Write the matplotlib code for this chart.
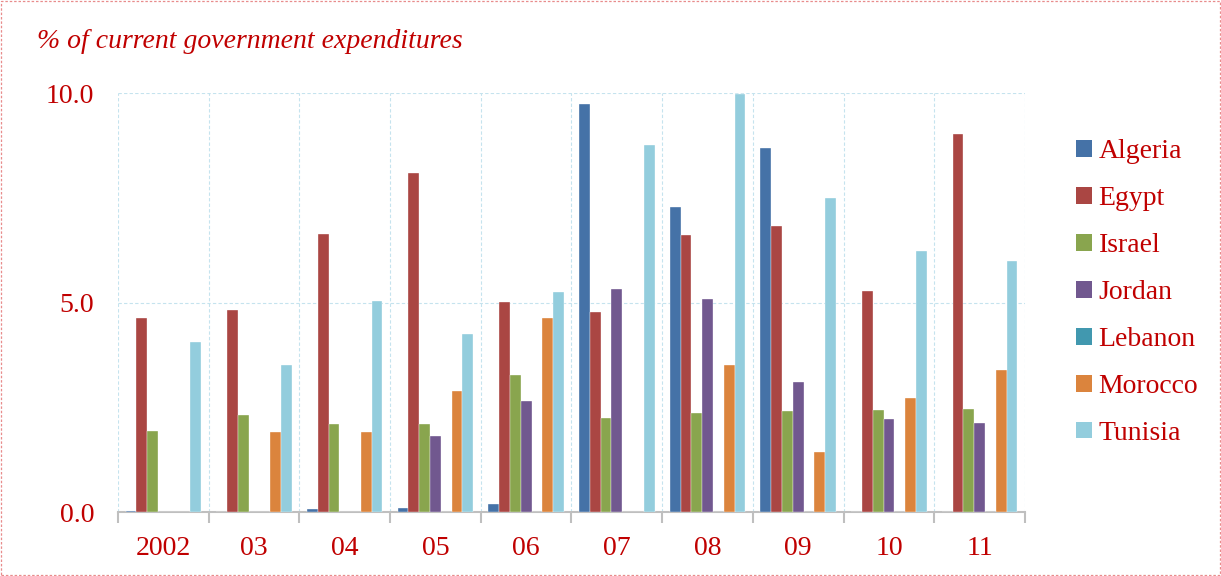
import numpy as np
import matplotlib
matplotlib.use("Agg")
import matplotlib.pyplot as plt
from matplotlib.patches import Rectangle, Patch

# data
years = ["2002", "03", "04", "05", "06", "07", "08", "09", "10", "11"]
countries = ["Algeria", "Egypt", "Israel", "Jordan", "Lebanon", "Morocco", "Tunisia"]
algeria = [0.03, 0.01, 0.06, 0.10, 0.18, 9.73, 7.29, 8.68, 0.0, 0.0]
egypt = [4.62, 4.81, 6.63, 8.08, 5.02, 4.78, 6.61, 6.83, 5.28, 9.03]
israel = [1.94, 2.32, 2.09, 2.10, 3.28, 2.24, 2.36, 2.40, 2.43, 2.47]
jordan = [0.0, 0.0, 0.0, 1.81, 2.66, 5.33, 5.09, 3.10, 2.21, 2.12]
lebanon = [0.0, 0.0, 0.0, 0.0, 0.0, 0.0, 0.0, 0.0, 0.0, 0.0]
morocco = [0.0, 1.92, 1.90, 2.90, 4.64, 0.0, 3.52, 1.44, 2.71, 3.38]
tunisia = [4.06, 3.52, 5.04, 4.25, 5.25, 8.76, 9.97, 7.50, 6.24, 5.98]
series = [algeria, egypt, israel, jordan, lebanon, morocco, tunisia]
colors = ["#4572A7", "#AA4643", "#89A54E", "#71588F", "#4198AF", "#DB843D", "#93CDDD"]

red = "#C00000"
font = "Liberation Serif"


def make_chart():
    fig = plt.figure(figsize=(12.21, 5.76), dpi=100)
    ax = fig.add_axes([0.0966, 0.1111, 0.7429, 0.7274])

    x = np.arange(len(years))
    width = 0.119
    for i, (vals, col) in enumerate(zip(series, colors)):
        ax.bar(x + (i - 3) * width, vals, width, color=col,
               edgecolor="white", linewidth=0.25, zorder=3)

    ax.set_xlim(-0.5, len(years) - 0.5)
    ax.set_ylim(0, 10)

    # year labels centred, tick marks on the group boundaries
    ax.set_xticks(x)
    ax.set_xticklabels(years, fontsize=20, color=red, family=font)
    ax.set_xticks(np.arange(len(years) + 1) - 0.5, minor=True)
    ax.tick_params(axis="x", which="major", length=0, pad=17)
    ax.tick_params(axis="x", which="minor", length=8, width=1.5, color="#BFBFBF")

    ax.set_yticks([0, 5, 10])
    ax.set_yticklabels(["0.0", "5.0", "10.0"], fontsize=20, color=red, family=font)
    ax.tick_params(axis="y", length=0, pad=17)

    # light dashed grid
    ax.grid(True, which="minor", axis="x", color="#C5E3EE", linestyle=(0, (3, 2)), linewidth=0.8)
    ax.grid(True, which="major", axis="y", color="#C5E3EE", linestyle=(0, (3, 2)), linewidth=0.8)
    ax.set_axisbelow(True)

    for side in ["top", "right", "left"]:
        ax.spines[side].set_visible(False)
    ax.spines["bottom"].set_color("#BFBFBF")
    ax.spines["bottom"].set_linewidth(1.5)

    fig.text(0.030, 0.928, "% of current government expenditures", fontsize=20,
             color=red, style="italic", family=font, va="center")

    handles = [Patch(facecolor=c, edgecolor="none") for c in colors]
    leg = fig.legend(handles, countries, loc="center left", bbox_to_anchor=(0.861, 0.492),
                     frameon=False, handlelength=0.55, handleheight=0.55,
                     handletextpad=0.25, labelspacing=0.79,
                     prop={"family": font, "size": 20})
    for t in leg.get_texts():
        t.set_color(red)

    # dashed outer border
    fig.patches.append(Rectangle((0.001, 0.001), 0.998, 0.997, transform=fig.transFigure,
                                 fill=False, edgecolor="#E88C8C", linestyle=(0, (2, 1.5)),
                                 linewidth=0.9))

    fig.savefig("out.png", dpi=100)


if __name__ == '__main__':
    make_chart()
